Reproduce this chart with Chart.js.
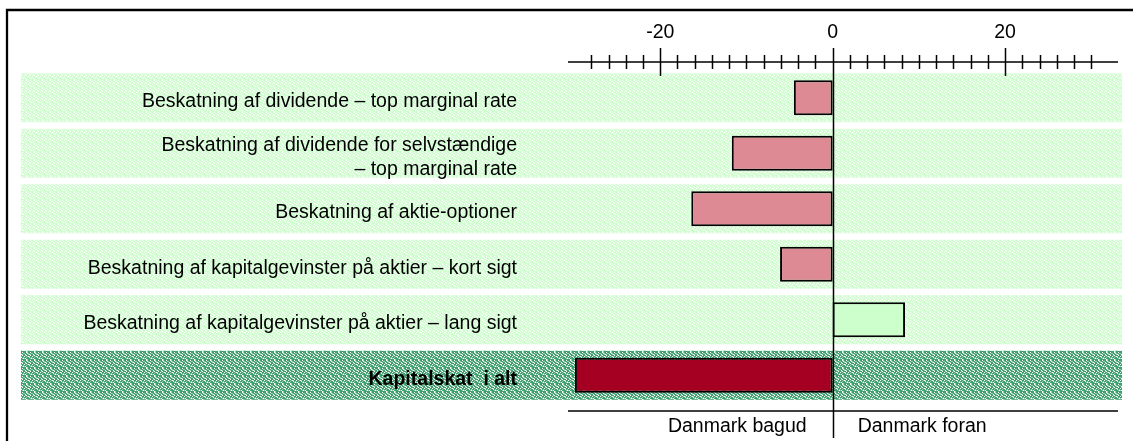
<!DOCTYPE html>
<html>
<head>
<meta charset="utf-8">
<script src="https://cdn.jsdelivr.net/npm/chart.js@4"></script>
<style>
  html, body { margin: 0; padding: 0; background: #fff; }
</style>
</head>
<body>
<canvas id="kapitalskat" width="1133" height="441"></canvas>
<script>
const categories = [
  'Beskatning af dividende – top marginal rate',
  ['Beskatning af dividende for selvstændige', '– top marginal rate'],
  'Beskatning af aktie-optioner',
  'Beskatning af kapitalgevinster på aktier – kort sigt',
  'Beskatning af kapitalgevinster på aktier – lang sigt',
  'Kapitalskat  i alt'
];
const values = [-4.5, -11.7, -16.4, -6.1, 8.4, -29.9];
const tickValues = [-28, -26, -24, -22, -20, -18, -16, -14, -12, -10, -8, -6, -4, -2, 0,
  2, 4, 6, 8, 10, 12, 14, 16, 18, 20, 22, 24, 26, 28, 30];
const majorTicks = [-20, 0, 20];
const sideLabels = ['Danmark bagud', 'Danmark foran'];

const FONT = "'Liberation Sans', Arial, sans-serif";
const FONT_SIZE = 19.5;
Chart.defaults.font.family = FONT;
Chart.defaults.color = '#000';

// small dithered tile, like the old Excel fill patterns
function makePattern(ctx, colors, rows) {
  const c = document.createElement('canvas');
  c.width = rows[0].length;
  c.height = rows.length;
  const g = c.getContext('2d');
  rows.forEach((row, y) => {
    [...row].forEach((ch, x) => {
      g.fillStyle = colors[ch];
      g.fillRect(x, y, 1, 1);
    });
  });
  return ctx.createPattern(c, 'repeat');
}
const tile = [
  '11021101',
  '21102112',
  '10112021',
  '12011101',
  '01120211',
  '11211012',
  '20111120',
  '11021111'
];

const canvas = document.getElementById('kapitalskat');
const c2d = canvas.getContext('2d');
const lightFill = makePattern(c2d, { 0: '#ffffff', 1: '#ccffcc', 2: '#e6fae6' }, tile);
const darkFill = makePattern(c2d, { 0: '#ffffff', 1: '#3f9f6e', 2: '#98d0b0' }, tile);

const decor = {
  id: 'decor',
  beforeDraw(chart) {
    const { ctx, chartArea } = chart;
    const y = chart.scales.y;
    ctx.save();
    ctx.fillStyle = '#fff';
    ctx.fillRect(0, 0, chart.width, chart.height);
    // frame
    ctx.strokeStyle = '#000';
    ctx.lineWidth = 2.3;
    ctx.beginPath();
    ctx.moveTo(7, chart.height);
    ctx.lineTo(7, 10);
    ctx.lineTo(chart.width, 10);
    ctx.stroke();
    // row bands
    const half = 24.5;
    categories.forEach((_, i) => {
      const py = y.getPixelForValue(i);
      ctx.fillStyle = i === categories.length - 1 ? darkFill : lightFill;
      ctx.fillRect(21, py - half, chartArea.right + 4 - 21, half * 2);
    });
    ctx.restore();
  },
  afterDatasetsDraw(chart) {
    const { ctx, chartArea } = chart;
    const x = chart.scales.x;
    const axisY = chartArea.top - 8;
    const x0 = x.getPixelForValue(0);
    ctx.save();
    ctx.strokeStyle = '#000';
    ctx.lineWidth = 1.5;
    ctx.beginPath();
    ctx.moveTo(chartArea.left, axisY);
    ctx.lineTo(chartArea.right, axisY);
    tickValues.forEach(v => {
      const px = Math.round(x.getPixelForValue(v)) + 0.5;
      const len = majorTicks.includes(v) ? 14 : 7;
      ctx.moveTo(px, axisY - len);
      ctx.lineTo(px, axisY + len);
    });
    // zero line
    ctx.moveTo(Math.round(x0) + 0.5, axisY - 14);
    ctx.lineTo(Math.round(x0) + 0.5, chart.height - 3);
    // bottom line
    const baseY = chartArea.bottom + 8;
    ctx.moveTo(chartArea.left, baseY);
    ctx.lineTo(chartArea.right, baseY);
    ctx.stroke();
    ctx.fillStyle = '#000';
    ctx.font = FONT_SIZE + 'px ' + FONT;
    ctx.textBaseline = 'middle';
    ctx.textAlign = 'right';
    ctx.fillText(sideLabels[0], x0 - 26, baseY + 16);
    ctx.textAlign = 'left';
    ctx.fillText(sideLabels[1], x0 + 25, baseY + 16);
    ctx.restore();
  }
};

new Chart(canvas, {
  type: 'bar',
  data: {
    labels: categories,
    datasets: [{
      data: values,
      backgroundColor: c => c.dataIndex === values.length - 1 ? '#a50021'
        : (values[c.dataIndex] > 0 ? '#ccffcc' : '#dd8a94'),
      borderColor: '#000',
      borderWidth: 2,
      borderSkipped: false,
      barPercentage: 0.63,
      categoryPercentage: 1
    }]
  },
  options: {
    indexAxis: 'y',
    responsive: false,
    animation: false,
    layout: { padding: { top: 0, left: 0, right: 15, bottom: 38 } },
    plugins: {
      legend: { display: false },
      tooltip: { enabled: false }
    },
    scales: {
      x: {
        position: 'top',
        min: -30.7,
        max: 33.1,
        afterBuildTicks: s => { s.ticks = tickValues.map(v => ({ value: v })); },
        afterFit: s => {
          s.height = 70;
          s.paddingLeft = 0;
          s.paddingRight = 0;
        },
        grid: { display: false, drawTicks: false },
        border: { display: false },
        ticks: {
          autoSkip: false,
          maxRotation: 0,
          padding: 26,
          font: { size: FONT_SIZE },
          callback: v => majorTicks.includes(v) ? String(v) : ''
        }
      },
      y: {
        afterFit: s => {
          s.width = 568;
          s.paddingTop = 0;
          s.paddingBottom = 0;
        },
        grid: { display: false, drawTicks: false },
        border: { display: false },
        ticks: {
          padding: 51,
          labelOffset: 4,
          font: c => ({
            size: FONT_SIZE,
            lineHeight: 1.23,
            weight: c.index === categories.length - 1 ? 'bold' : 'normal'
          })
        }
      }
    }
  },
  plugins: [decor]
});
</script>
</body>
</html>
